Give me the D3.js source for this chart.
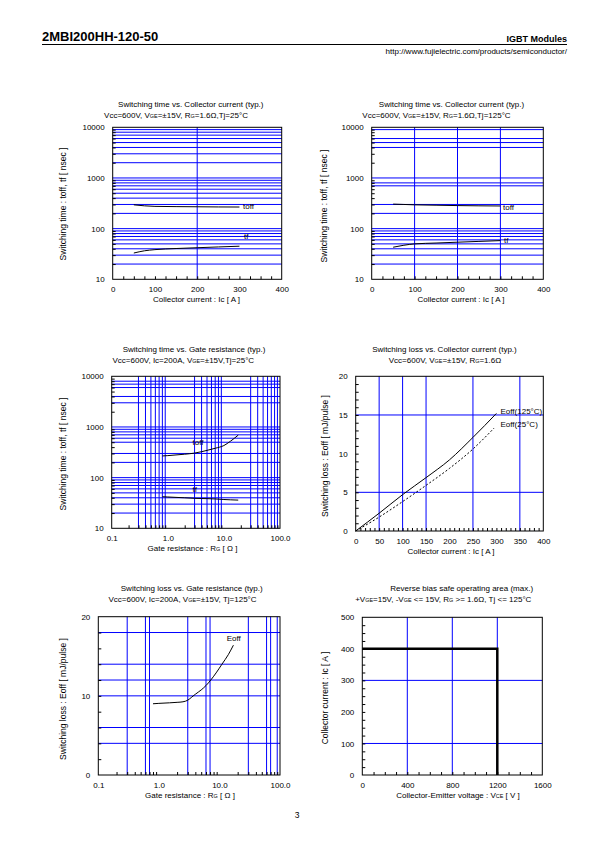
<!DOCTYPE html>
<html><head><meta charset="utf-8">
<script src="https://cdn.jsdelivr.net/npm/d3@7"></script>
<style>
body{margin:0;background:#fff}
svg{display:block}
text{font-family:"Liberation Sans",Arial,sans-serif;fill:#000}
</style>
</head><body>
<svg id="c" width="595" height="842"></svg>
<script>
// ---------------- DATA ----------------
// Chart 1 / 2 : switching time vs collector current
const icTime = [50, 75, 100, 150, 200, 250, 300];
const toff25 = [295, 282, 275, 272, 270, 268, 267];
const tf25 = [33, 36.5, 38.5, 40.5, 42, 43.5, 45];
const toff125 = [305, 300, 295, 290, 285, 282, 280];
const tf125 = [43, 47, 50, 52, 54, 56, 58];
// Chart 3 : switching time vs gate resistance
const rgTime = [0.8, 1, 2, 3, 4, 5, 7, 10, 13, 18];
const toffRg = [268, 272, 290, 305, 325, 345, 380, 430, 520, 690];
const tfRg = [42, 41.5, 40, 39, 38.7, 38.5, 38, 37, 36.5, 36];
// Chart 4 : switching loss vs collector current
const icLoss125 = [0, 50, 100, 150, 200, 250, 300];
const eoff125 = [0, 2.3, 4.7, 6.9, 9.2, 12.1, 15.2];
const icLoss25 = [0, 50, 100, 150, 200, 250, 295];
const eoff25 = [0, 1.8, 3.8, 5.9, 8.1, 10.6, 13.3];
// Chart 5 : switching loss vs gate resistance
const rgLoss = [0.8, 1, 1.5, 2, 2.5, 3, 3.5, 4, 5, 6, 7.2, 9, 11, 14, 17];
const eoffRg = [9.0, 9.05, 9.12, 9.18, 9.25, 9.45, 9.85, 10.2, 10.75, 11.3, 12.0, 13.0, 14.0, 15.2, 16.4];
// Chart 6 : RBSOA
const rbsoaV = [0, 1200, 1200];
const rbsoaI = [400, 400, 0];

// tick labels
const ticksIcTime = [0, 100, 200, 300, 400];
const ticksTime = [10, 100, 1000, 10000];
const ticksRg = [0.1, 1, 10, 100];
const ticksRgLabels = ["0.1", "1.0", "10.0", "100.0"];
const ticksIcLoss = [0, 50, 100, 150, 200, 250, 300, 350, 400];
const ticksLoss = [0, 5, 10, 15, 20];
const ticksLoss2 = [0, 10, 20];
const ticksVce = [0, 400, 800, 1200, 1600];
const ticksIcSoa = [0, 100, 200, 300, 400, 500];

// grid lines (blue)
const gridX1 = [200];
const gridX2 = [100, 200, 300];
const gridY2 = [20,30,40,50,60,70,80,90,200,300,700,800,1000,4000,5000,6000,9000];
const gridX3 = [0.3,0.4,0.5,0.6,0.7,0.8,0.9,3,4,5,6,7,8,9,30,40,50,60,70,80,90];
const gridY3 = [20,30,40,50,60,70,80,90,100,200,300,500,600,700,800,900,1000,3000,4000,6000,7000,8000];
const gridX4 = [50, 100, 150, 250, 350];
const gridY4 = [5, 15];
const gridX5 = [0.3, 0.6, 0.7, 3, 6, 7, 30, 60, 70, 90];
const gridY5 = [4, 6, 10, 12, 14, 18];
const gridX6 = [400, 800, 1200];
const gridY6 = [100, 300];

// ---------------- DRAWING ----------------
const svg = d3.select('#c');
svg.append('rect').attr('width', 595).attr('height', 842).attr('fill', '#fff');
const FS = 8;

function rich(g, str, x, y, size, anchor, rot) {
  const t = g.append('text').attr('x', x).attr('y', y).attr('font-size', size)
    .attr('text-anchor', anchor || 'middle');
  if (rot) t.attr('transform', `rotate(${rot},${x},${y})`);
  const parts = str.split(/_\{([^}]*)\}/);
  parts.forEach((p, i) => {
    if (!p) return;
    const s = t.append('tspan').text(p);
    if (i % 2 === 1) s.attr('font-size', size * 0.68);
  });
  return t;
}

function logMinor(dom) {
  const out = [];
  for (let e = Math.round(Math.log10(dom[0])); e < Math.round(Math.log10(dom[1])); e++)
    for (let k = 2; k <= 9; k++) out.push(k * Math.pow(10, e));
  return out;
}

function panel(o) {
  const g = svg.append('g');
  const x = (o.xlog ? d3.scaleLog() : d3.scaleLinear()).domain(o.xd).range([o.L, o.R]);
  const y = (o.ylog ? d3.scaleLog() : d3.scaleLinear()).domain(o.yd).range([o.B, o.T]);

  // blue grid
  g.append('g').selectAll('line').data(o.gx).join('line')
    .attr('x1', d => x(d)).attr('x2', d => x(d)).attr('y1', o.T).attr('y2', o.B)
    .attr('stroke', '#0000ff').attr('stroke-width', 1);
  g.append('g').selectAll('line').data(o.gy).join('line')
    .attr('x1', o.L).attr('x2', o.R).attr('y1', d => y(d)).attr('y2', d => y(d))
    .attr('stroke', '#0000ff').attr('stroke-width', 1);

  // minor ticks (inward) via axes
  const mx = g.append('g').attr('transform', `translate(0,${o.B})`)
    .call(d3.axisBottom(x).tickValues(o.mx).tickSize(-3).tickFormat(''));
  const my = g.append('g').attr('transform', `translate(${o.L},0)`)
    .call(d3.axisLeft(y).tickValues(o.my).tickSize(-3).tickFormat(''));
  [mx, my].forEach(a => { a.select('.domain').remove(); a.selectAll('line').attr('stroke', '#000').attr('stroke-width', 1); });

  // border
  g.append('rect').attr('x', o.L).attr('y', o.T).attr('width', o.R - o.L).attr('height', o.B - o.T)
    .attr('fill', 'none').attr('stroke', '#000').attr('stroke-width', 1);

  // labelled axes
  const ax = g.append('g').attr('transform', `translate(0,${o.B})`)
    .call(d3.axisBottom(x).tickValues(o.tx).tickSize(0).tickPadding(o.xpad || 7)
      .tickFormat((d, i) => o.txl ? o.txl[i] : d));
  const ay = g.append('g').attr('transform', `translate(${o.L},0)`)
    .call(d3.axisLeft(y).tickValues(o.ty).tickSize(0).tickPadding(o.ypad || 8)
      .tickFormat(d => d));
  [ax, ay].forEach(a => {
    a.select('.domain').remove();
    a.attr('font-family', null).attr('font-size', null);
    a.selectAll('text').attr('font-size', FS).attr('fill', '#000');
  });

  // curves
  (o.series || []).forEach(s => {
    const pts = s.xs.map((v, i) => [v, s.ys[i]]);
    g.append('path').datum(pts)
      .attr('d', d3.line().x(d => x(d[0])).y(d => y(d[1])).curve(s.curve || d3.curveMonotoneX))
      .attr('fill', 'none').attr('stroke', '#000').attr('stroke-width', s.w || 1)
      .attr('stroke-dasharray', s.dash || null)
      .attr('stroke-linejoin', 'miter').attr('stroke-linecap', 'butt');
  });
  (o.labels || []).forEach(l => rich(g, l[0], l[1], l[2], FS, 'start'));

  // titles
  rich(g, o.title, o.tc, o.ty1, FS);
  rich(g, o.sub, o.sc, o.ty2, FS);
  rich(g, o.xt, o.xtc, o.B + 23, FS);
  rich(g, o.yt, o.ytx, o.ytc, 8.5, 'middle', -90);
}

// header
svg.append('text').attr('x', 42).attr('y', 41).attr('font-size', 13).attr('font-weight', 'bold')
  .text('2MBI200HH-120-50');
svg.append('line').attr('x1', 42).attr('x2', 567).attr('y1', 44.5).attr('y2', 44.5)
  .attr('stroke', '#000').attr('stroke-width', 1);
svg.append('text').attr('x', 567).attr('y', 42).attr('font-size', 9).attr('font-weight', 'bold')
  .attr('text-anchor', 'end').text('IGBT Modules');
svg.append('text').attr('x', 567).attr('y', 54).attr('font-size', 8)
  .attr('text-anchor', 'end').text('http://www.fujielectric.com/products/semiconductor/');
svg.append('text').attr('x', 297).attr('y', 818).attr('font-size', 8.5)
  .attr('text-anchor', 'middle').text('3');

const ytTime = 'Switching time : toff, tf [ nsec ]';
const ytLoss = 'Switching loss : Eoff [ mJ/pulse ]';

// Chart 1
panel({
  L: 112.7, R: 281.7, T: 127.3, B: 279.3, xd: [0, 400], yd: [10, 10000], ylog: true,
  gx: gridX1, gy: logMinor([10, 10000]).concat([100, 1000]),
  mx: d3.range(25, 400, 25), my: logMinor([10, 10000]),
  tx: ticksIcTime, ty: ticksTime,
  series: [{xs: icTime, ys: toff25}, {xs: icTime, ys: tf25}],
  labels: [['toff', 243, 209], ['tf', 244, 238.5]],
  title: 'Switching time vs. Collector current (typ.)', tc: 190.8, ty1: 106.5,
  sub: 'Vcc=600V, V_{GE}=±15V, R_{G}=1.6Ω,Tj=25°C', sc: 176, ty2: 117.5,
  xt: 'Collector current : Ic [ A ]', xtc: 196.5,
  yt: ytTime, ytx: 66, ytc: 204
});

// Chart 2
panel({
  L: 371.7, R: 543.3, T: 127.3, B: 279.3, xd: [0, 400], yd: [10, 10000], ylog: true,
  gx: gridX2, gy: gridY2.concat([100]),
  mx: d3.range(25, 400, 25), my: logMinor([10, 10000]),
  tx: ticksIcTime, ty: ticksTime,
  series: [{xs: icTime, ys: toff125}, {xs: icTime, ys: tf125}],
  labels: [['toff', 503, 209.5], ['tf', 504, 242.5]],
  title: 'Switching time vs. Collector current (typ.)', tc: 451.5, ty1: 106.5,
  sub: 'Vcc=600V, V_{GE}=±15V, R_{G}=1.6Ω,Tj=125°C', sc: 436.5, ty2: 117.5,
  xt: 'Collector current : Ic [ A ]', xtc: 461,
  yt: ytTime, ytx: 327, ytc: 206
});

// Chart 3
panel({
  L: 111.7, R: 280, T: 376.3, B: 528.3, xd: [0.1, 100], xlog: true, yd: [10, 10000], ylog: true,
  gx: gridX3, gy: gridY3,
  mx: logMinor([0.1, 100]), my: logMinor([10, 10000]),
  tx: ticksRg, txl: ticksRgLabels, ty: ticksTime,
  series: [{xs: rgTime, ys: toffRg}, {xs: rgTime, ys: tfRg}],
  labels: [['toff', 192.5, 444.5], ['tf', 192.5, 491.5]],
  title: 'Switching time vs. Gate resistance (typ.)', tc: 194, ty1: 352,
  sub: 'Vcc=600V, Ic=200A, V_{GE}=±15V,Tj=25°C', sc: 183.3, ty2: 362.5,
  xt: 'Gate resistance : R_{G} [ Ω ]', xtc: 192.5,
  yt: ytTime, ytx: 66, ytc: 454
});

// Chart 4
panel({
  L: 355.7, R: 543.3, T: 376.3, B: 531, xd: [0, 400], yd: [0, 20],
  gx: gridX4, gy: gridY4,
  mx: d3.range(10, 400, 10), my: d3.range(1, 20, 1),
  tx: ticksIcLoss, ty: ticksLoss,
  series: [{xs: icLoss125, ys: eoff125}, {xs: icLoss25, ys: eoff25, dash: '2,2'}],
  labels: [['Eoff(125°C)', 500.5, 414], ['Eoff(25°C)', 500.5, 427.3]],
  title: 'Switching loss vs. Collector current (typ.)', tc: 444.5, ty1: 352,
  sub: 'Vcc=600V, V_{GE}=±15V, R_{G}=1.6Ω', sc: 445, ty2: 362.5,
  xt: 'Collector current : Ic [ A ]', xtc: 451,
  yt: ytLoss, ytx: 328, ytc: 456
});

// Chart 5
panel({
  L: 98.3, R: 280, T: 616.7, B: 775, xd: [0.1, 100], xlog: true, yd: [0, 20],
  gx: gridX5, gy: gridY5,
  mx: logMinor([0.1, 100]), my: d3.range(2, 20, 2),
  tx: ticksRg, txl: ticksRgLabels, ty: ticksLoss2,
  series: [{xs: rgLoss, ys: eoffRg}],
  labels: [['Eoff', 226.7, 641]],
  title: 'Switching loss vs. Gate resistance (typ.)', tc: 191.7, ty1: 591,
  sub: 'Vcc=600V, Ic=200A, V_{GE}=±15V, Tj=125°C', sc: 182.5, ty2: 602,
  xt: 'Gate resistance : R_{G} [ Ω ]', xtc: 190, xpad: 7.5,
  yt: ytLoss, ytx: 66, ytc: 699
});

// Chart 6
panel({
  L: 362.3, R: 542.3, T: 617.3, B: 775, xd: [0, 1600], yd: [0, 500],
  gx: gridX6, gy: gridY6,
  mx: d3.range(100, 1600, 100), my: d3.range(25, 500, 25),
  tx: ticksVce, ty: ticksIcSoa,
  series: [{xs: rbsoaV, ys: rbsoaI, curve: d3.curveLinear, w: 2.5}],
  title: 'Reverse bias safe operating area (max.)', tc: 461.7, ty1: 591,
  sub: '+V_{GE}=15V, -V_{GE} <= 15V, R_{G} >= 1.6Ω, Tj <= 125°C', sc: 443.3, ty2: 601.5,
  xt: 'Collector-Emitter voltage : V_{CE} [ V ]', xtc: 458, xpad: 7.5,
  yt: 'Collector current : Ic [ A ]', ytx: 328, ytc: 698
});
</script>
</body></html>
